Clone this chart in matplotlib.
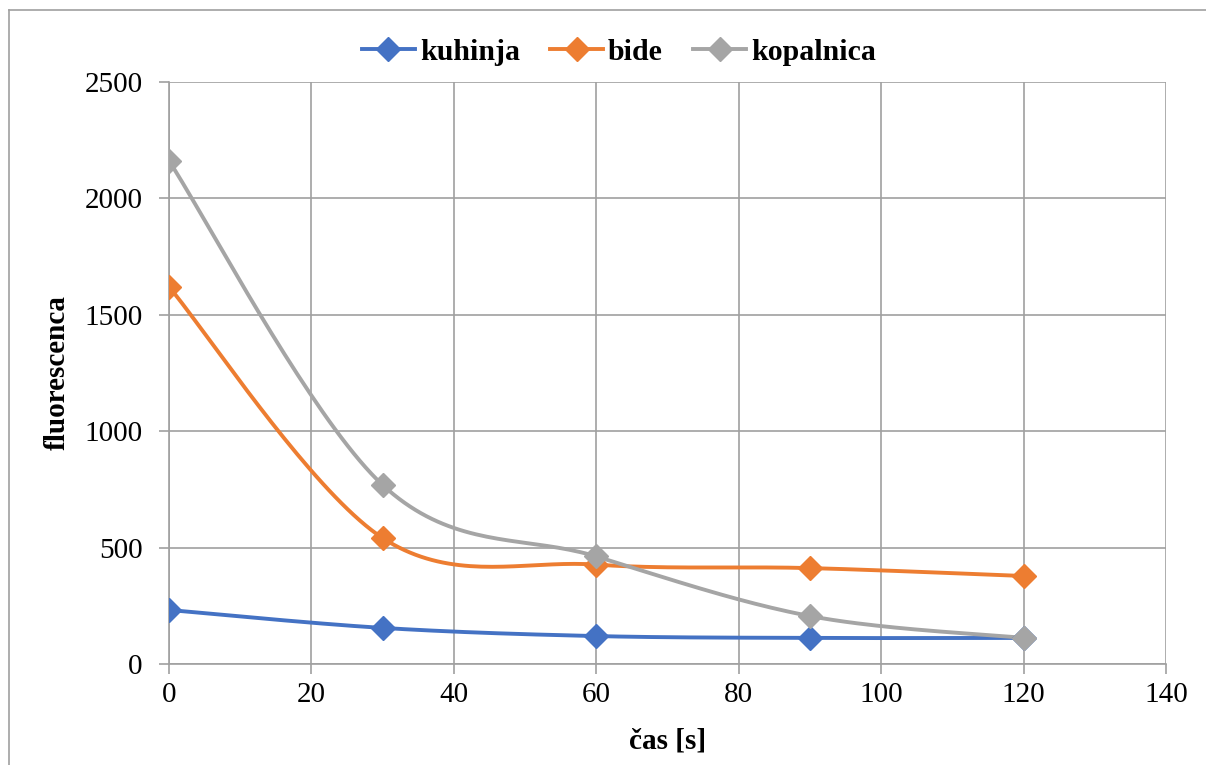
import numpy as np
import matplotlib
matplotlib.use('Agg')
import matplotlib.pyplot as plt
from matplotlib.lines import Line2D

plt.rcParams['font.family'] = ['Liberation Serif', 'DejaVu Serif']

# data
cas = [0, 30, 60, 90, 120]
kuhinja = [232, 155, 120, 112, 112]
bide = [1620, 541, 427, 412, 378]
kopalnica = [2161, 769, 462, 206, 112]

series = [
    ('kuhinja', kuhinja, '#4472C4'),
    ('bide', bide, '#ED7D31'),
    ('kopalnica', kopalnica, '#A5A5A5'),
]


def smooth(x, y, n=40):
    """Excel-like smoothed line (Catmull-Rom style bezier through the points)."""
    p = np.column_stack([x, y]).astype(float)
    p = np.vstack([p[0], p, p[-1]])
    out = []
    t = np.linspace(0, 1, n)[:, None]
    for i in range(1, len(p) - 2):
        p0, p1, p2, p3 = p[i - 1], p[i], p[i + 1], p[i + 2]
        c1 = p1 + (p2 - p0) / 6
        c2 = p2 - (p3 - p1) / 6
        seg = ((1 - t) ** 3) * p1 + 3 * ((1 - t) ** 2) * t * c1 + 3 * (1 - t) * t ** 2 * c2 + t ** 3 * p2
        out.append(seg if i == 1 else seg[1:])
    out = np.vstack(out)
    return out[:, 0], out[:, 1]


fig = plt.figure(figsize=(12.06, 7.65), dpi=100)
ax = fig.add_axes([169 / 1206, 1 - 664 / 765, (1166 - 169) / 1206, (664 - 82) / 765])

grid_c = '#a0a0a0'
handles = []
for name, vals, col in series:
    sx, sy = smooth(cas, vals)
    ax.plot(sx, sy, color=col, lw=2.8, solid_capstyle='round', zorder=3)
    ax.plot(cas, vals, ls='none', marker='D', ms=12, color=col, zorder=4)
    handles.append(Line2D([], [], color=col, lw=2.8, marker='D', ms=12, label=name))

ax.set_xlim(0, 140)
ax.set_ylim(0, 2500)
ax.set_xticks(range(0, 141, 20))
ax.set_yticks(range(0, 2501, 500))
ax.grid(True, color=grid_c, lw=1.2, zorder=0)
ax.set_axisbelow(True)
for s in ['top', 'right']:
    ax.spines[s].set_visible(False)
for s in ['left', 'bottom']:
    ax.spines[s].set_color(grid_c)
    ax.spines[s].set_linewidth(1.2)
ax.tick_params(axis='both', colors=grid_c, width=1.2, length=7, labelsize=21, labelcolor='black')
ax.tick_params(axis='x', pad=6)
ax.tick_params(axis='y', pad=12)

ax.set_xlabel('čas [s]', fontsize=21, fontweight='bold', labelpad=14)
ax.set_ylabel('fluorescenca', fontsize=21, fontweight='bold', labelpad=10)

fig.legend(handles=handles, loc='center', bbox_to_anchor=(0.513, 1 - 52 / 765), ncol=3,
           frameon=False, prop={'size': 21.5, 'weight': 'bold'}, handlelength=1.8,
           handletextpad=0.15, columnspacing=1.0)

# chart border (partly cut off in the reference)
fig.add_artist(Line2D([9 / 1206, 1], [1 - 10 / 765, 1 - 10 / 765], color=grid_c, lw=1.2))
fig.add_artist(Line2D([9 / 1206, 9 / 1206], [0, 1 - 10 / 765], color=grid_c, lw=1.2))

fig.savefig('out.png', dpi=100)
